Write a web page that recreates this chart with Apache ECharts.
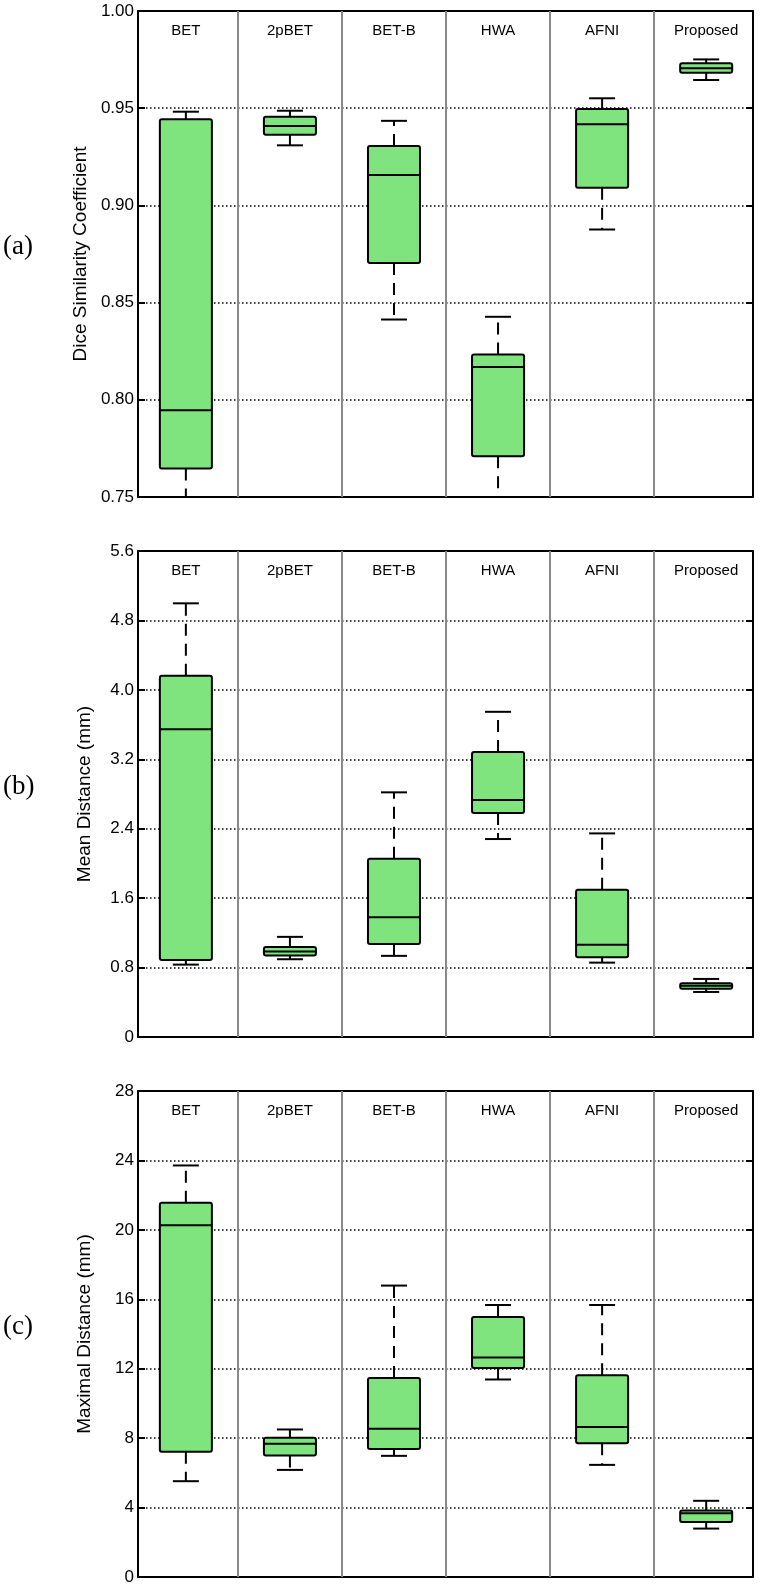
<!DOCTYPE html>
<html>
<head>
<meta charset="utf-8">
<script src="https://cdn.jsdelivr.net/npm/echarts@6/dist/echarts.min.js"></script>
<style>
html,body{margin:0;padding:0;background:#fff;}
#chart{width:760px;height:1589px;}
</style>
</head>
<body>
<div id="chart"></div>
<script>
// ---------------- data ----------------
const categories = ['BET', '2pBET', 'BET-B', 'HWA', 'AFNI', 'Proposed'];
const panelLabels = ['(a)', '(b)', '(c)'];
const axisNames = ['Dice Similarity Coefficient', 'Mean Distance (mm)', 'Maximal Distance (mm)'];

// each row: [lower whisker, q1, median, q3, upper whisker]
const diceBoxes = [
  [0.742, 0.7646, 0.7946, 0.9443, 0.9482],
  [0.9309, 0.9363, 0.9408, 0.9456, 0.9487],
  [0.8413, 0.8704, 0.9156, 0.9305, 0.9435],
  [0.745, 0.7710, 0.8169, 0.8233, 0.8427],
  [0.8876, 0.9091, 0.9417, 0.9496, 0.9551],
  [0.9645, 0.9682, 0.9705, 0.9731, 0.9751]
];
const meanBoxes = [
  [0.834, 0.888, 3.546, 4.162, 4.997],
  [0.896, 0.938, 0.984, 1.038, 1.154],
  [0.935, 1.073, 1.381, 2.054, 2.819],
  [2.281, 2.581, 2.73, 3.285, 3.747],
  [0.857, 0.919, 1.062, 1.696, 2.346],
  [0.519, 0.557, 0.59, 0.619, 0.669]
];
const maxBoxes = [
  [5.52, 7.21, 20.27, 21.56, 23.71],
  [6.17, 7.00, 7.67, 8.02, 8.50],
  [6.98, 7.37, 8.54, 11.46, 16.79],
  [11.38, 12.04, 12.65, 14.98, 15.67],
  [6.46, 7.71, 8.64, 11.62, 15.67],
  [2.79, 3.17, 3.67, 3.83, 4.39]
];

const diceTicks = [0.75, 0.80, 0.85, 0.90, 0.95, 1.00];
const diceTickLabels = ['0.75', '0.80', '0.85', '0.90', '0.95', '1.00'];
const meanTicks = [0, 0.8, 1.6, 2.4, 3.2, 4.0, 4.8, 5.6];
const meanTickLabels = ['0', '0.8', '1.6', '2.4', '3.2', '4.0', '4.8', '5.6'];
const maxTicks = [0, 4, 8, 12, 16, 20, 24, 28];
const maxTickLabels = ['0', '4', '8', '12', '16', '20', '24', '28'];

const dividers = [1.5, 2.5, 3.5, 4.5, 5.5];

// ---------------- chart ----------------
const panels = [
  { boxes: diceBoxes, ticks: diceTicks, labels: diceTickLabels, top: 11 },
  { boxes: meanBoxes, ticks: meanTicks, labels: meanTickLabels, top: 551 },
  { boxes: maxBoxes, ticks: maxTicks, labels: maxTickLabels, top: 1091 }
];
const GRID_LEFT = 138, GRID_W = 615, GRID_H = 486;
const X_MIN = 0.54, X_MAX = 6.45;
const FILL = '#7fe47e';
const SANS = '"Liberation Sans", Arial, Helvetica, sans-serif';

function renderBox(params, api) {
  const cs = params.coordSys;
  const x = api.value(0);
  const top = cs.y, bot = cs.y + cs.height;
  const clampY = y => Math.max(top, Math.min(bot, y));
  const inside = y => y >= top - 0.5 && y <= bot + 0.5;
  const cx = api.coord([x, api.value(3)])[0];
  const yMin = api.coord([x, api.value(1)])[1];
  const yQ1 = api.coord([x, api.value(2)])[1];
  const yMed = api.coord([x, api.value(3)])[1];
  const yQ3 = api.coord([x, api.value(4)])[1];
  const yMax = api.coord([x, api.value(5)])[1];
  const bw = api.size([0.5, 0])[0];
  const cw = api.size([0.25, 0])[0];
  const solid = { stroke: '#000', lineWidth: 2, fill: null };
  const dashed = { stroke: '#000', lineWidth: 2, lineDash: [12, 8], fill: null };
  const children = [];
  children.push({ type: 'line', shape: { x1: cx, y1: yQ3, x2: cx, y2: clampY(yMax) }, style: dashed });
  children.push({ type: 'line', shape: { x1: cx, y1: yQ1, x2: cx, y2: clampY(yMin) }, style: dashed });
  if (inside(yMax)) children.push({ type: 'line', shape: { x1: cx - cw / 2, y1: yMax, x2: cx + cw / 2, y2: yMax }, style: solid });
  if (inside(yMin)) children.push({ type: 'line', shape: { x1: cx - cw / 2, y1: yMin, x2: cx + cw / 2, y2: yMin }, style: solid });
  children.push({ type: 'rect', shape: { x: cx - bw / 2, y: yQ3, width: bw, height: yQ1 - yQ3, r: 2 },
    style: { fill: FILL, stroke: '#000', lineWidth: 2 } });
  children.push({ type: 'line', shape: { x1: cx - bw / 2, y1: yMed, x2: cx + bw / 2, y2: yMed }, style: solid });
  children.push({ type: 'text', style: { text: categories[params.dataIndex], x: cx, y: top + 19.5,
    align: 'center', verticalAlign: 'middle', font: '15px ' + SANS, fill: '#000' } });
  return { type: 'group', children: children };
}

const grid = [], xAxis = [], yAxis = [], series = [], graphic = [];
panels.forEach((p, i) => {
  const min = p.ticks[0], max = p.ticks[p.ticks.length - 1];
  const interval = p.ticks[1] - p.ticks[0];
  grid.push({ left: GRID_LEFT, width: GRID_W, top: p.top, height: GRID_H });
  const xBase = { type: 'value', gridIndex: i, min: X_MIN, max: X_MAX,
    axisLine: { show: true, onZero: false, lineStyle: { color: '#000', width: 2 } },
    axisTick: { show: false }, axisLabel: { show: false }, splitLine: { show: false } };
  xAxis.push(Object.assign({}, xBase, { position: 'bottom' }));
  xAxis.push(Object.assign({}, xBase, { position: 'top' }));
  const labels = p.labels;
  yAxis.push({ type: 'value', gridIndex: i, min: min, max: max, interval: interval, position: 'left',
    name: axisNames[i], nameLocation: 'middle', nameGap: 44,
    nameTextStyle: { fontSize: 19, fontFamily: SANS, color: '#000' },
    axisLine: { show: true, onZero: false, lineStyle: { color: '#000', width: 2 } },
    axisTick: { show: true, inside: true, length: 7, lineStyle: { color: '#000', width: 2 } },
    axisLabel: { margin: 4, fontSize: 17, fontFamily: SANS, color: '#000',
      formatter: v => labels[Math.round((v - min) / interval)] },
    splitLine: { show: true, lineStyle: { color: '#000', width: 1.5, type: [1.5, 2.5] } } });
  yAxis.push({ type: 'value', gridIndex: i, min: min, max: max, interval: interval, position: 'right',
    axisLine: { show: true, onZero: false, lineStyle: { color: '#000', width: 2 } },
    axisTick: { show: true, inside: true, length: 7, lineStyle: { color: '#000', width: 2 } },
    axisLabel: { show: false }, splitLine: { show: false } });
  series.push({
    type: 'custom', xAxisIndex: 2 * i, yAxisIndex: 2 * i,
    data: p.boxes.map((b, k) => [k + 1].concat(b)),
    renderItem: renderBox,
    encode: { x: 0, y: [1, 2, 3, 4, 5] },
    silent: true,
    markLine: { silent: true, symbol: ['none', 'none'], label: { show: false },
      lineStyle: { color: '#888', width: 2, type: 'solid' },
      data: dividers.map(d => ({ xAxis: d })) }
  });
  graphic.push({ type: 'text', x: 3, y: p.top + GRID_H / 2 - 7,
    style: { text: panelLabels[i], font: '27px "Liberation Serif", "Times New Roman", serif',
      fill: '#000', verticalAlign: 'middle', align: 'left' } });
});

const chart = echarts.init(document.getElementById('chart'), null, { renderer: 'canvas' });
chart.setOption({ animation: false, backgroundColor: '#fff', grid, xAxis, yAxis, series, graphic });
</script>
</body>
</html>
